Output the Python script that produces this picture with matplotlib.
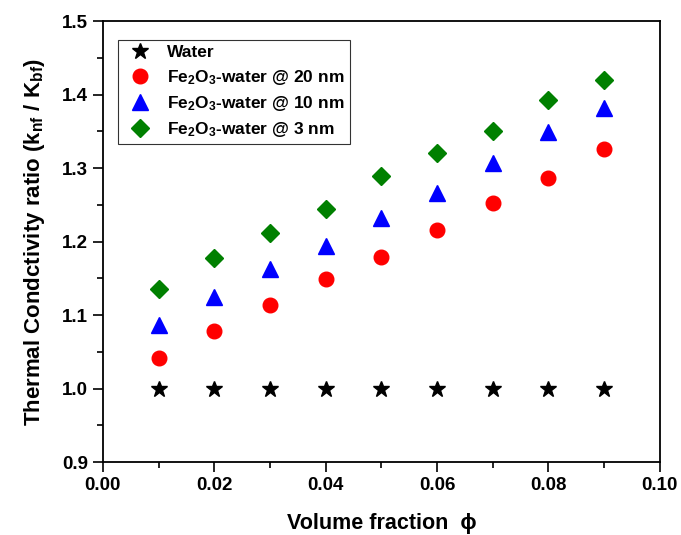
import matplotlib
matplotlib.use("Agg")
import matplotlib.pyplot as plt
from matplotlib.ticker import MultipleLocator

plt.rcParams['font.family'] = ['Liberation Sans', 'DejaVu Sans']
plt.rcParams['font.weight'] = 'bold'
plt.rcParams['mathtext.fontset'] = 'custom'
plt.rcParams['mathtext.rm'] = 'Liberation Sans:bold'
plt.rcParams['mathtext.it'] = 'Liberation Sans:bold'
plt.rcParams['mathtext.bf'] = 'Liberation Sans:bold'
plt.rcParams['mathtext.default'] = 'rm'

# volume fraction
phi = [0.01, 0.02, 0.03, 0.04, 0.05, 0.06, 0.07, 0.08, 0.09]

# thermal conductivity ratio
water = [1.0, 1.0, 1.0, 1.0, 1.0, 1.0, 1.0, 1.0, 1.0]
fe_20nm = [1.042, 1.078, 1.113, 1.149, 1.179, 1.216, 1.252, 1.286, 1.326]
fe_10nm = [1.086, 1.125, 1.162, 1.194, 1.232, 1.266, 1.307, 1.349, 1.382]
fe_3nm = [1.135, 1.178, 1.212, 1.244, 1.289, 1.321, 1.351, 1.393, 1.420]

labels = ['Water',
          'Fe$_2$O$_3$-water @ 20 nm',
          'Fe$_2$O$_3$-water @ 10 nm',
          'Fe$_2$O$_3$-water @ 3 nm']

fig = plt.figure(figsize=(6.81, 5.35), dpi=100)
ax = fig.add_axes([0.151, 0.1364, 0.818, 0.8243])

ax.plot(phi, water, linestyle='none', marker='*', ms=12, color='black', label=labels[0])
ax.plot(phi, fe_20nm, linestyle='none', marker='o', ms=10.5, color='#ff0000', label=labels[1])
ax.plot(phi, fe_10nm, linestyle='none', marker='^', ms=12, color='#0000ff', label=labels[2])
ax.plot(phi, fe_3nm, linestyle='none', marker='D', ms=9.5, color='#008000', label=labels[3])

ax.set_xlim(0.0, 0.10)
ax.set_ylim(0.9, 1.5)
ax.xaxis.set_major_locator(MultipleLocator(0.02))
ax.xaxis.set_minor_locator(MultipleLocator(0.01))
ax.yaxis.set_major_locator(MultipleLocator(0.1))
ax.yaxis.set_minor_locator(MultipleLocator(0.05))
ax.xaxis.set_major_formatter(plt.FormatStrFormatter('%.2f'))
ax.yaxis.set_major_formatter(plt.FormatStrFormatter('%.1f'))

ax.tick_params(which='major', direction='out', length=7, width=1.2, labelsize=13.5)
ax.tick_params(which='minor', direction='out', length=4, width=1.2)
for s in ax.spines.values():
    s.set_linewidth(1.3)

ax.set_xlabel('Volume fraction  \u03d5', fontsize=15.5, fontweight='bold', labelpad=14)
ax.set_ylabel('Thermal Condctivity ratio (k$_{nf}$ / K$_{bf}$)', fontsize=16,
              fontweight='bold', labelpad=11)

leg = ax.legend(loc='upper left', bbox_to_anchor=(0.027, 0.957), fontsize=12.5,
                frameon=True, fancybox=False, edgecolor='black', borderpad=0.3,
                labelspacing=0.42, handletextpad=0.55, borderaxespad=0.0)
leg.get_frame().set_linewidth(0.8)

fig.savefig('out.png', dpi=100)
